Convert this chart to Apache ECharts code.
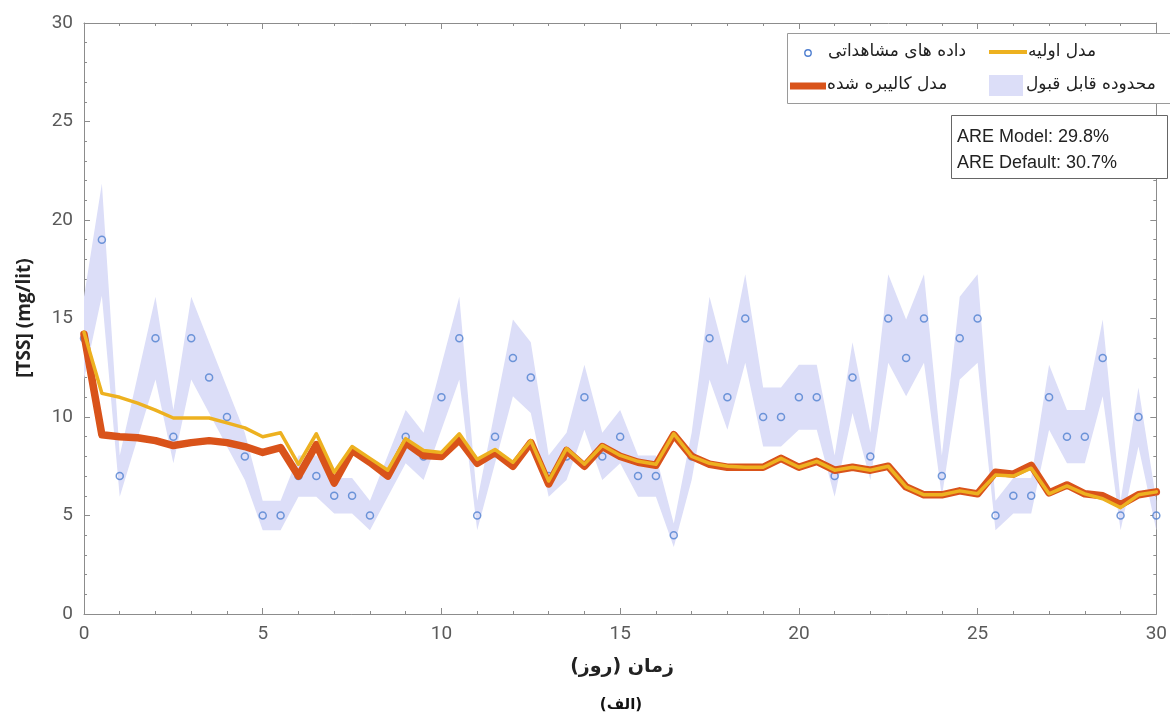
<!DOCTYPE html>
<html>
<head>
<meta charset="utf-8">
<title>TSS</title>
<script src="https://cdn.jsdelivr.net/npm/echarts@6.0.0/dist/echarts.min.js"></script>
<style>
  html, body { margin: 0; padding: 0; background: #fff; }
  #chart { width: 1170px; height: 719px; }
</style>
</head>
<body>
<div id="chart"></div>
<script>
// observed TSS samples (days, mg/lit)
let obsDays = [0, 0.5, 1, 2, 2.5, 3, 3.5, 4, 4.5, 5, 5.5, 6, 6.5, 7, 7.5, 8, 9, 9.5, 10, 10.5,
  11, 11.5, 12, 12.5, 13, 13.5, 14, 14.5, 15, 15.5, 16, 16.5, 17, 17.5, 18, 18.5, 19, 19.5,
  20, 20.5, 21, 21.5, 22, 22.5, 23, 23.5, 24, 24.5, 25, 25.5, 26, 26.5, 27, 27.5, 28, 28.5,
  29, 29.5, 30]
let obsTSS = [14, 19, 7, 14, 9, 14, 12, 10, 8, 5, 5, 7, 7, 6, 6, 5, 9, 8, 11, 14,
  5, 9, 13, 12, 7, 8, 11, 8, 9, 7, 7, 4, 8, 14, 11, 15, 10, 10,
  11, 11, 7, 12, 8, 15, 13, 15, 7, 14, 15, 5, 6, 6, 11, 9, 9, 13,
  5, 10, 5]

// acceptable range band
let bandLow = [11.9, 16.15, 5.95, 11.9, 7.65, 11.9, 10.2, 8.5, 6.8, 4.25, 4.25, 5.95, 5.95, 5.1, 5.1, 4.25, 7.65, 6.8, 9.35, 11.9,
  4.25, 7.65, 11.05, 10.2, 5.95, 6.8, 9.35, 6.8, 7.65, 5.95, 5.95, 3.4, 6.8, 11.9, 9.35, 12.75, 8.5, 8.5,
  9.35, 9.35, 5.95, 10.2, 6.8, 12.75, 11.05, 12.75, 5.95, 11.9, 12.75, 4.25, 5.1, 5.1, 9.35, 7.65, 7.65, 11.05,
  4.25, 8.5, 4.25]
let bandHigh = [16.1, 21.85, 8.05, 16.1, 10.35, 16.1, 13.8, 11.5, 9.2, 5.75, 5.75, 8.05, 8.05, 6.9, 6.9, 5.75, 10.35, 9.2, 12.65, 16.1,
  5.75, 10.35, 14.95, 13.8, 8.05, 9.2, 12.65, 9.2, 10.35, 8.05, 8.05, 4.6, 9.2, 16.1, 12.65, 17.25, 11.5, 11.5,
  12.65, 12.65, 8.05, 13.8, 9.2, 17.25, 14.95, 17.25, 8.05, 16.1, 17.25, 5.75, 6.9, 6.9, 12.65, 10.35, 10.35, 14.95,
  5.75, 11.5, 5.75]

// model output every half day
let modelDays = [0, 0.5, 1, 1.5, 2, 2.5, 3, 3.5, 4, 4.5, 5, 5.5, 6, 6.5, 7, 7.5, 8, 8.5, 9, 9.5,
  10, 10.5, 11, 11.5, 12, 12.5, 13, 13.5, 14, 14.5, 15, 15.5, 16, 16.5, 17, 17.5, 18, 18.5, 19, 19.5,
  20, 20.5, 21, 21.5, 22, 22.5, 23, 23.5, 24, 24.5, 25, 25.5, 26, 26.5, 27, 27.5, 28, 28.5, 29, 29.5, 30]
let initialModel = [14.3, 11.2, 11.0, 10.7, 10.35, 9.95, 9.95, 9.95, 9.7, 9.45, 9.0, 9.2, 7.6, 9.15, 7.2, 8.5, 7.9, 7.3, 8.9, 8.3,
  8.2, 9.15, 7.85, 8.35, 7.7, 8.8, 6.75, 8.4, 7.6, 8.55, 8.05, 7.75, 7.6, 9.15, 8.0, 7.65, 7.5, 7.45, 7.45, 7.9,
  7.45, 7.75, 7.3, 7.45, 7.3, 7.5, 6.45, 6.05, 6.05, 6.25, 6.1, 7.05, 7.0, 7.4, 6.1, 6.5, 6.1, 5.85, 5.4, 6.05, 6.2]
let calibratedModel = [14.2, 9.1, 9.0, 8.95, 8.8, 8.55, 8.7, 8.8, 8.7, 8.5, 8.2, 8.45, 7.0, 8.6, 6.65, 8.3, 7.7, 7.0, 8.7, 8.05,
  8.0, 8.85, 7.65, 8.2, 7.5, 8.7, 6.6, 8.3, 7.5, 8.5, 8.0, 7.7, 7.55, 9.1, 8.0, 7.6, 7.45, 7.45, 7.45, 7.9,
  7.45, 7.75, 7.3, 7.45, 7.3, 7.5, 6.45, 6.05, 6.05, 6.25, 6.1, 7.2, 7.1, 7.55, 6.15, 6.55, 6.1, 6.0, 5.55, 6.05, 6.2]

let xTicks = { min: 0, max: 30, interval: 5 }
let yTicks = { min: 0, max: 30, interval: 5 }

let labels = {
  observed: 'داده های مشاهداتی',
  initial: 'مدل اولیه',
  calibrated: 'مدل کالیبره شده',
  band: 'محدوده قابل قبول',
  xName: '\u200Fزمان (روز)\u200F',
  caption: '\u200F(الف)\u200F',
  yName: '[TSS] (mg/lit)',
  areModel: 'ARE Model: 29.8%',
  areDefault: 'ARE Default: 30.7%'
}

const BLUE = '#4f7fd0'
const YELLOW = '#edb120'
const RED = '#d9531a'
const BAND = '#dcdef8'
const AXIS = '#8c8c8c'
const FA = '"DejaVu Sans", sans-serif'

let pairs = (xs, ys) => xs.map((x, i) => [x, ys[i]])

let axisCommon = (showLabel) => ({
  type: 'value',
  axisLine: { show: true, onZero: false, lineStyle: { color: AXIS, width: 1 } },
  axisTick: { show: true, inside: true, length: 6, lineStyle: { color: AXIS } },
  minorTick: { show: true, splitNumber: 5, length: 3, lineStyle: { color: AXIS } },
  splitLine: { show: false },
  minorSplitLine: { show: false },
  axisLabel: {
    show: showLabel,
    color: '#5a5a5a',
    fontSize: 19,
    fontFamily: 'Roboto, sans-serif',
    margin: 11
  }
})

// band polygon: upper edge forward, lower edge back
let renderBand = (params, api) => {
  let pts = []
  for (let i = 0; i < obsDays.length; i++) pts.push(api.coord([obsDays[i], bandHigh[i]]))
  for (let i = obsDays.length - 1; i >= 0; i--) pts.push(api.coord([obsDays[i], bandLow[i]]))
  return {
    type: 'polygon',
    shape: { points: pts },
    style: { fill: BAND, stroke: null }
  }
}

let option = {
  animation: false,
  backgroundColor: '#fff',
  grid: { left: 84, right: 7, top: 23, bottom: 105, containLabel: false },
  xAxis: [
    Object.assign(axisCommon(true), xTicks, { position: 'bottom' }),
    Object.assign(axisCommon(false), xTicks, { position: 'top' })
  ],
  yAxis: [
    Object.assign(axisCommon(true), yTicks, { position: 'left' }),
    Object.assign(axisCommon(false), yTicks, { position: 'right' })
  ],
  series: [
    {
      name: labels.band,
      type: 'custom',
      data: [[obsDays[0], bandLow[0]]],
      renderItem: renderBand,
      silent: true,
      z: 1
    },
    {
      name: labels.observed,
      type: 'scatter',
      data: pairs(obsDays, obsTSS),
      symbol: 'circle',
      symbolSize: 7,
      itemStyle: { color: 'rgba(0,0,0,0)', borderColor: BLUE, borderWidth: 1.5 },
      z: 2
    },
    {
      name: labels.calibrated,
      type: 'line',
      data: pairs(modelDays, calibratedModel),
      symbol: 'none',
      lineStyle: { color: RED, width: 7.5, join: 'round', cap: 'round' },
      z: 3
    },
    {
      name: labels.initial,
      type: 'line',
      data: pairs(modelDays, initialModel),
      symbol: 'none',
      lineStyle: { color: YELLOW, width: 3.5, join: 'round', cap: 'round' },
      z: 4
    }
  ],
  graphic: [
    // legend
    { type: 'rect', shape: { x: 787.5, y: 33.5, width: 420, height: 70 }, style: { fill: '#fff', stroke: '#9a9a9a', lineWidth: 1 }, z: 100 },
    { type: 'circle', shape: { cx: 808, cy: 53, r: 3.2 }, style: { fill: 'none', stroke: BLUE, lineWidth: 1.4 }, z: 101 },
    { type: 'text', x: 828, y: 52, style: { text: labels.observed, font: '17px ' + FA, fill: '#222', textAlign: 'left', textVerticalAlign: 'middle' }, z: 101 },
    { type: 'line', shape: { x1: 989, y1: 52, x2: 1027, y2: 52 }, style: { stroke: YELLOW, lineWidth: 4 }, z: 101 },
    { type: 'text', x: 1028, y: 52, style: { text: labels.initial, font: '17px ' + FA, fill: '#222', textAlign: 'left', textVerticalAlign: 'middle' }, z: 101 },
    { type: 'line', shape: { x1: 790, y1: 86, x2: 826, y2: 86 }, style: { stroke: RED, lineWidth: 7 }, z: 101 },
    { type: 'text', x: 827, y: 85, style: { text: labels.calibrated, font: '17px ' + FA, fill: '#222', textAlign: 'left', textVerticalAlign: 'middle' }, z: 101 },
    { type: 'rect', shape: { x: 989, y: 75, width: 34, height: 21 }, style: { fill: BAND }, z: 101 },
    { type: 'text', x: 1026, y: 85, style: { text: labels.band, font: '17px ' + FA, fill: '#222', textAlign: 'left', textVerticalAlign: 'middle' }, z: 101 },
    // error box
    { type: 'rect', shape: { x: 951.5, y: 115.5, width: 216, height: 63 }, style: { fill: '#fff', stroke: '#666', lineWidth: 1 }, z: 100 },
    { type: 'text', x: 957, y: 137, style: { text: labels.areModel, font: '18px "Liberation Sans", Arial, sans-serif', fill: '#222', textVerticalAlign: 'middle' }, z: 101 },
    { type: 'text', x: 957, y: 163, style: { text: labels.areDefault, font: '18px "Liberation Sans", Arial, sans-serif', fill: '#222', textVerticalAlign: 'middle' }, z: 101 },
    // axis names and caption
    { type: 'text', x: 25, y: 318, rotation: Math.PI / 2, style: { text: labels.yName, font: 'bold 19px "Open Sans", sans-serif', fill: '#222', textAlign: 'center', textVerticalAlign: 'middle' }, z: 101 },
    { type: 'text', x: 622, y: 667, style: { text: labels.xName, font: 'bold 19px ' + FA, fill: '#222', textAlign: 'center', textVerticalAlign: 'middle' }, z: 101 },
    { type: 'text', x: 621, y: 705, style: { text: labels.caption, font: 'bold 15px ' + FA, fill: '#111', textAlign: 'center', textVerticalAlign: 'middle' }, z: 101 }
  ]
}

let chart = echarts.init(document.getElementById('chart'), null, { renderer: 'canvas' })
chart.setOption(option)
</script>
</body>
</html>
